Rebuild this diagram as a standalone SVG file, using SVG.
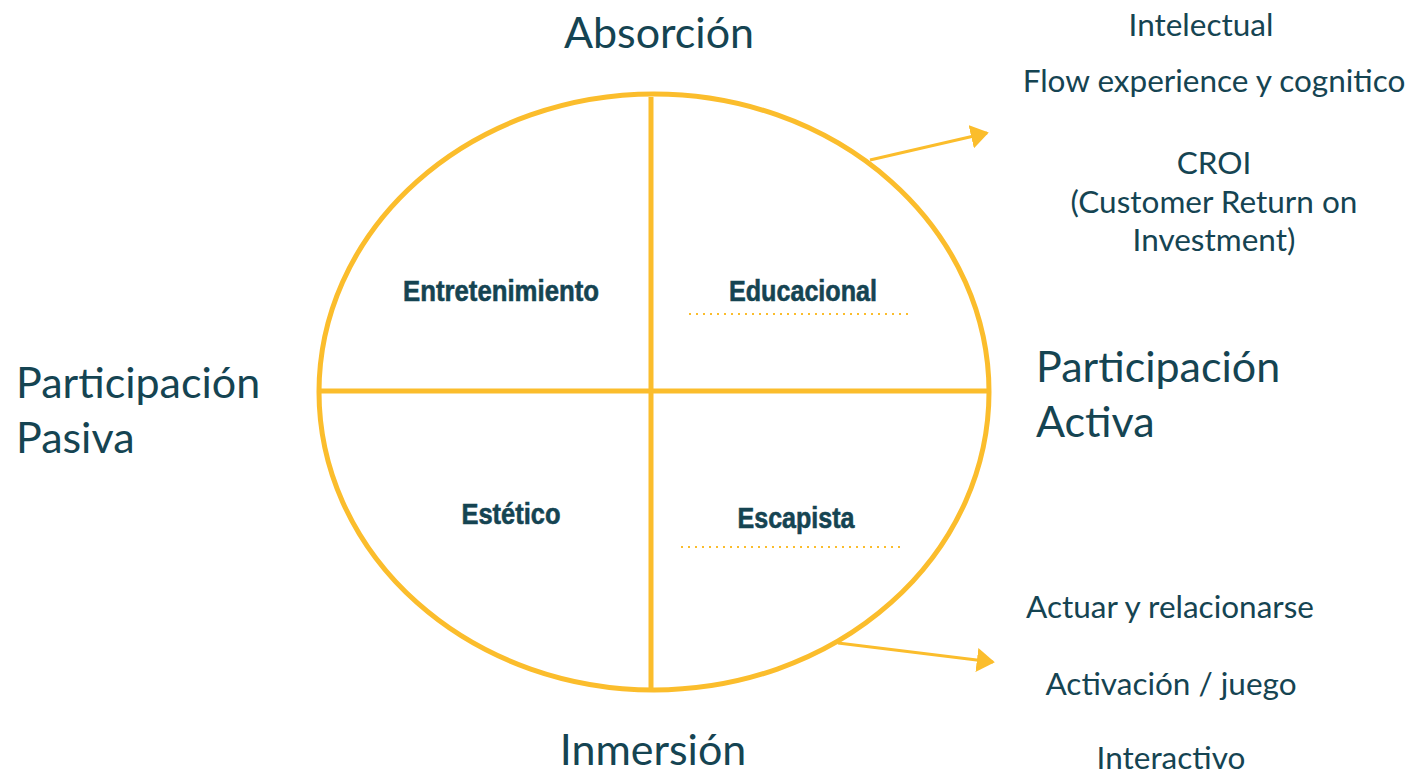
<svg xmlns="http://www.w3.org/2000/svg" width="1415" height="774" viewBox="0 0 1415 774">
<style>
.l{font-family:Lato,"Noto Sans",sans-serif;fill:#154452}
.big{font-size:43px}
.sm{font-size:31.5px}
.q{font-family:"Liberation Sans",Arial,sans-serif;font-weight:bold;font-size:30px;fill:#154452;text-anchor:middle;stroke:#154452;stroke-width:0.6}
.y{stroke:#FBBD2C;fill:none}
.dot{stroke:#FBBD2C;stroke-width:2;stroke-dasharray:2 5}
</style>
<defs>
<marker id="ah" viewBox="0 0 10 10" refX="9" refY="5" markerWidth="6" markerHeight="8" preserveAspectRatio="none" orient="auto" markerUnits="strokeWidth">
<path d="M0,0 L10,5 L0,10 Z" fill="#FBBD2C"/>
</marker>
</defs>
<rect width="1415" height="774" fill="#fff"/>
<g id="circle">
<ellipse class="y" cx="654" cy="392" rx="335" ry="298" stroke-width="5"/>
</g>
<g id="connectors">
<line class="y" x1="651" y1="97" x2="651" y2="692" stroke-width="5"/>
<line class="y" x1="318" y1="391" x2="988" y2="391" stroke-width="5"/>
<line class="y" x1="870" y1="160" x2="987" y2="133" stroke-width="3" marker-end="url(#ah)"/>
<line class="y" x1="838" y1="643" x2="993" y2="662" stroke-width="3" marker-end="url(#ah)"/>
<line class="dot" x1="689" y1="314" x2="910" y2="314"/>
<line class="dot" x1="681" y1="547" x2="900" y2="547"/>
</g>
<g id="axis-top"><text class="l big" x="659" y="48" text-anchor="middle">Absorción</text></g>
<g id="axis-bottom"><text class="l big" x="653" y="765" text-anchor="middle">Inmersión</text></g>
<g id="axis-left"><text class="l big" x="16" y="398">Participación</text><text class="l big" x="16" y="453">Pasiva</text></g>
<g id="axis-right"><text class="l big" x="1036" y="382">Participación</text><text class="l big" x="1036" y="437">Activa</text></g>
<g id="q-entretenimiento"><text class="q" x="501" y="301" textLength="196" lengthAdjust="spacingAndGlyphs">Entretenimiento</text></g>
<g id="q-educacional"><text class="q" x="803" y="301" textLength="148" lengthAdjust="spacingAndGlyphs">Educacional</text></g>
<g id="q-estetico"><text class="q" x="511" y="524" textLength="99" lengthAdjust="spacingAndGlyphs">Estético</text></g>
<g id="q-escapista"><text class="q" x="796" y="528" textLength="117" lengthAdjust="spacingAndGlyphs">Escapista</text></g>
<g id="notes-top">
<text class="l sm" x="1201" y="36" text-anchor="middle">Intelectual</text>
<text class="l sm" x="1214" y="92" text-anchor="middle">Flow experience y cognitico</text>
<text class="l sm" x="1214" y="174" text-anchor="middle">CROI</text>
<text class="l sm" x="1214" y="213" text-anchor="middle">(Customer Return on</text>
<text class="l sm" x="1214" y="251" text-anchor="middle">Investment)</text>
</g>
<g id="notes-bottom">
<text class="l sm" x="1170" y="618" text-anchor="middle">Actuar y relacionarse</text>
<text class="l sm" x="1171" y="695" text-anchor="middle">Activación / juego</text>
<text class="l sm" x="1171" y="769" text-anchor="middle">Interactivo</text>
</g>
</svg>
